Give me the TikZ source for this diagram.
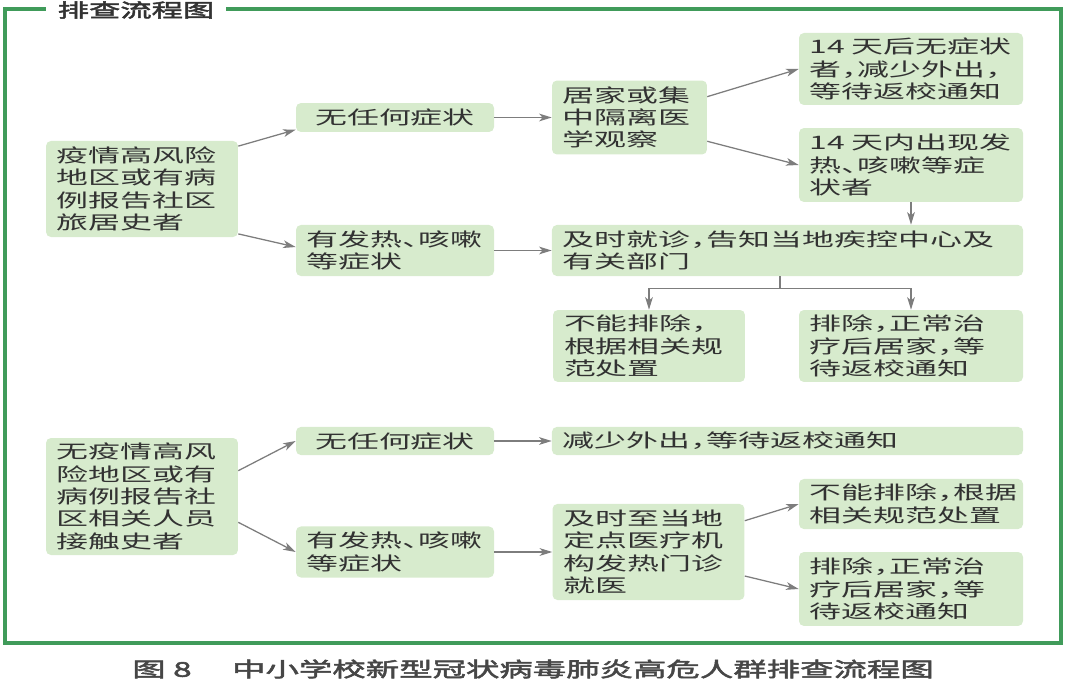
\documentclass[tikz,border=0pt]{standalone}
\usepackage{fontspec}
\usepackage{tikz}
\usetikzlibrary{arrows.meta}
\newfontfamily\cjk[FakeStretch=1.72,RawFeature=+halt]{Noto Sans CJK SC}
\newfontfamily\cjkbold[FakeStretch=1.65,FakeBold=2.5]{Noto Sans CJK SC}
\definecolor{boxgreen}{RGB}{215,235,205}
\definecolor{framegreen}{RGB}{64,155,90}
\definecolor{arrowgray}{RGB}{125,125,125}
\definecolor{textgray}{RGB}{50,50,50}
\tikzset{
    %Define standard arrow tip
    >={Stealth[length=9pt,width=5.5pt,inset=2.5pt]},
    % Define arrow style
    pil/.style={
           ->,
           arrowgray,
           line width=0.9pt,}
}
\begin{document}
\begin{tikzpicture}[
x=0.025cm, y=-0.025cm,
greenbox/.style={rectangle, rounded corners=3.5pt, fill=boxgreen, text=textgray,
  font=\cjk\fontsize{13.2}{15.9}\selectfont, align=left, inner xsep=7.8pt, inner ysep=0pt},
narrowbox/.style={greenbox, text width=120.9pt},
midbox/.style={greenbox, text width=125.2pt},
slimbox/.style={greenbox, text width=94.6pt},
widebox/.style={greenbox, text width=143.7pt},
longbox/.style={greenbox, text width=319.4pt},
]
\useasboundingbox (0,0) rectangle (1070,681);

%Frame
\draw[framegreen, line width=3.5pt] (5,9) rectangle (1061,643);
\node[fill=white, text=textgray, inner xsep=8.5pt, inner ysep=1pt,
  font=\cjkbold\fontsize{13.5}{15}\selectfont](title) at (136,10) {排查流程图};

%Nodes, upper part
\node[narrowbox, minimum height=68.3pt](A1) at (142,189) {疫情高风险\\地区或有病\\例报告社区\\旅居史者};
\node[midbox, align=center, minimum height=20.6pt](N1) at (395,117.5) {无任何症状};
\node[midbox, minimum height=36.3pt](F1) at (395,250.5) {有发热、咳嗽\\等症状};
\node[slimbox, minimum height=52.6pt](Q1) at (629.5,117.5) {居家或集\\中隔离医\\学观察};
\node[widebox, minimum height=51.2pt](R1) at (911,69) {14 天后无症状\\者，减少外出，\\等待返校通知};
\node[widebox, minimum height=52.6pt](R2) at (911,165) {14 天内出现发\\热、咳嗽等症\\状者};
\node[longbox, minimum height=36.3pt](D1) at (787.5,250.5) {及时就诊，告知当地疾控中心及\\有关部门};
\node[narrowbox, minimum height=51.2pt](E1) at (649,346) {不能排除，\\根据相关规\\范处置};
\node[widebox, minimum height=51.2pt](E2) at (911,346) {排除，正常治\\疗后居家，等\\待返校通知};

%Nodes, lower part
\node[narrowbox, minimum height=83.2pt](A2) at (142,496.5) {无疫情高风\\险地区或有\\病例报告社\\区相关人员\\接触史者};
\node[midbox, align=center, minimum height=20pt](N2) at (395,441) {无任何症状};
\node[midbox, minimum height=36.3pt](F2) at (395,552) {有发热、咳嗽\\等症状};
\node[longbox, minimum height=20pt](G1) at (787.5,441) {减少外出，等待返校通知};
\node[narrowbox, minimum height=68.3pt](H1) at (648.5,552) {及时至当地\\定点医疗机\\构发热门诊\\就医};
\node[widebox, minimum height=35.6pt](K1) at (911,504) {不能排除，根据\\相关规范处置};
\node[widebox, minimum height=52.6pt](K2) at (911,589) {排除，正常治\\疗后居家，等\\待返校通知};

%Arrows
\path[pil] (A1.24) edge (N1.187);
\path[pil] (A1.-25) edge (F1.178);
\path[pil] (N1) edge (Q1);
\path[pil] (F1) edge (D1);
\path[pil] (Q1.15) edge (R1.west);
\path[pil] (Q1.-17) edge (R2.west);
\path[pil] (R2.south) edge (R2.south |- D1.north);
\draw[pil] (D1.-106) -- ++(0,12) -| (E1.north);
\draw[pil] (D1.-106) -- ++(0,12) -| (E2.north);

\path[pil] (A2.15) edge (N2.west);
\path[pil] (A2.-15) edge (F2.west);
\path[pil] (N2) edge (G1);
\path[pil] (F2) edge (H1);
\path[pil] (H1.18) edge (K1.west);
\path[pil] (H1.-14) edge (K2.west);

%Caption
\node[text=textgray!90, font=\cjkbold\fontsize{14.4}{16}\selectfont](caption) at (533,669) {图 8\hspace{2em}中小学校新型冠状病毒肺炎高危人群排查流程图};
\end{tikzpicture}
\end{document}
